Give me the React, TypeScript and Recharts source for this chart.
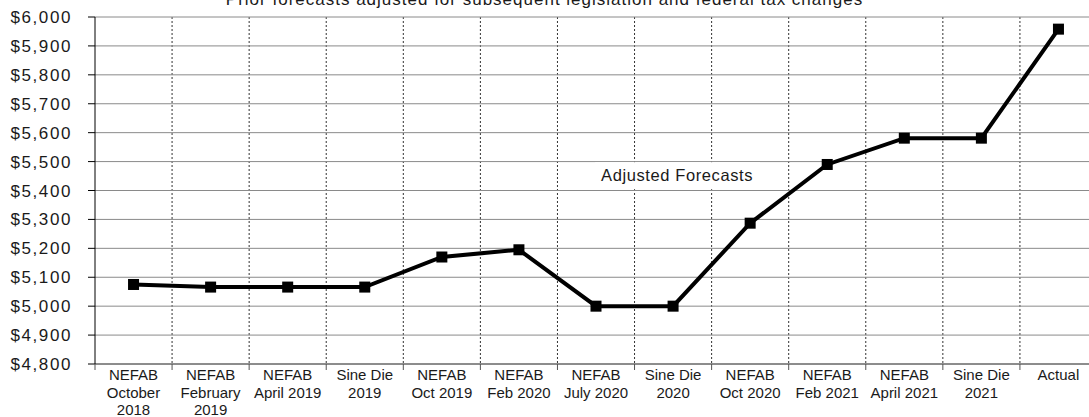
import React from "react"
import { LineChart, Line, XAxis, YAxis, CartesianGrid, ReferenceDot } from "recharts"

// forecast rounds, lines of each tick label split by "|"
const categories = [
  "NEFAB|October|2018",
  "NEFAB|February|2019",
  "NEFAB|April 2019",
  "Sine Die|2019",
  "NEFAB|Oct 2019",
  "NEFAB|Feb 2020",
  "NEFAB|July 2020",
  "Sine Die|2020",
  "NEFAB|Oct 2020",
  "NEFAB|Feb 2021",
  "NEFAB|April 2021",
  "Sine Die|2021",
  "Actual",
]

// adjusted forecasts, $ millions
const adjusted = [5075, 5066, 5066, 5066, 5170, 5195, 5000, 5000, 5287, 5490, 5581, 5581, 5958]

const yTicks = [4800, 4900, 5000, 5100, 5200, 5300, 5400, 5500, 5600, 5700, 5800, 5900, 6000]

const title = "Prior forecasts adjusted for subsequent legislation and federal tax changes"
const seriesLabel = "Adjusted Forecasts"

const data = categories.map((c, i) => ({ cat: c, value: adjusted[i] }))

const FONT = "'Liberation Sans', Arial, sans-serif"
const CHART_W = 1100
const Y_AXIS_W = 95
const RIGHT = 3
const PLOT_W = CHART_W - Y_AXIS_W - RIGHT
const BAND = PLOT_W / categories.length

const CategoryTick = (props: any) => {
  const { x, y, payload, index } = props
  const lines = String(payload.value).split("|")
  const left = x - BAND / 2
  const right = x + BAND / 2
  return (
    <g>
      <line x1={left} x2={left} y1={y} y2={y + 6} stroke="#555" />
      {index === categories.length - 1 && <line x1={right} x2={right} y1={y} y2={y + 6} stroke="#555" />}
      <text x={x} y={y} textAnchor="middle" fontFamily={FONT} fontSize={15} fill="#1a1a1a">
        {lines.map((l, i) => (
          <tspan key={i} x={x} dy={i === 0 ? 16 : 17.5}>
            {l}
          </tspan>
        ))}
      </text>
    </g>
  )
}

const SquareDot = (props: any) => {
  const { cx, cy } = props
  if (cx == null || cy == null) return null
  return <rect x={cx - 5.5} y={cy - 5.5} width={11} height={11} fill="#000" />
}

const LabelBox = (props: any) => {
  const { cx, cy } = props
  return (
    <g>
      <rect x={cx - 78} y={cy - 13} width={165} height={27} fill="#fff" />
      <text x={cx + 4} y={cy + 6} textAnchor="middle" fontFamily={FONT} fontSize={16.5} letterSpacing={0.6} fill="#1a1a1a">
        {seriesLabel}
      </text>
    </g>
  )
}

const bandBoundaries = ({ offset }: any) => {
  const out: number[] = []
  for (let k = 1; k < categories.length; k++) out.push(offset.left + (offset.width * k) / categories.length)
  return out
}

export default function App() {
  return (
    <div style={{ position: "absolute", left: 0, top: 0, width: 1089, height: 417, overflow: "hidden", background: "#fff" }}>
      <div
        style={{
          position: "absolute",
          left: 0,
          top: -9.5,
          width: 1089,
          textAlign: "center",
          fontFamily: FONT,
          fontSize: 17,
          letterSpacing: 1,
          lineHeight: "17px",
          color: "#1a1a1a",
          whiteSpace: "nowrap",
        }}
      >
        {title}
      </div>
      <LineChart width={CHART_W} height={417} data={data} margin={{ top: 17, right: RIGHT, left: 0, bottom: 0 }}>
        <CartesianGrid
          stroke="#333"
          horizontal={false}
          vertical={true}
          strokeDasharray="2 2"
          verticalCoordinatesGenerator={bandBoundaries}
        />
        <CartesianGrid stroke="#8a8a8a" horizontal={true} vertical={false} />
        <XAxis
          dataKey="cat"
          height={53}
          padding={{ left: BAND / 2, right: BAND / 2 }}
          axisLine={{ stroke: "#555" }}
          tickLine={false}
          tickSize={0}
          tickMargin={0}
          interval={0}
          tick={<CategoryTick />}
        />
        <YAxis
          width={Y_AXIS_W}
          domain={[4800, 6000]}
          ticks={yTicks}
          interval={0}
          tickFormatter={(v: number) => "$" + v.toLocaleString("en-US")}
          axisLine={{ stroke: "#000" }}
          tickLine={{ stroke: "#000" }}
          tickSize={7}
          tickMargin={16}
          tick={{ fontFamily: FONT, fontSize: 17, letterSpacing: 1.6, fill: "#1a1a1a" }}
        />
        <Line
          dataKey="value"
          stroke="#000"
          strokeWidth={4}
          dot={<SquareDot />}
          activeDot={false}
          isAnimationActive={false}
        />
        <ReferenceDot x={categories[7]} y={5453} r={1} shape={<LabelBox />} />
      </LineChart>
    </div>
  )
}
